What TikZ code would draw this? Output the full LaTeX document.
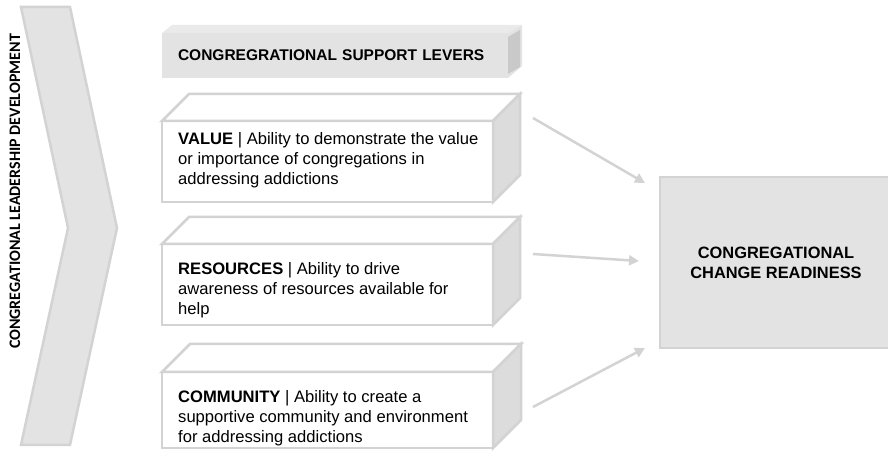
\documentclass[tikz,border=0pt]{standalone}
\usepackage{fontspec}
\setmainfont{Liberation Sans}
\newfontfamily\sidefont{Carlito}
\usetikzlibrary{arrows.meta}
\definecolor{panelgray}{HTML}{E3E3E3}
\definecolor{edgegray}{HTML}{D3D3D3}
\definecolor{sidegray}{HTML}{DCDCDC}
\definecolor{headtop}{HTML}{EAEAEA}
\definecolor{darkside}{HTML}{C9C9C9}
\tikzset{
  lever/.style={draw=edgegray, line width=2.5pt, fill=white, minimum width=331pt,
    minimum height=81pt, inner sep=0pt, outer sep=0pt, anchor=south west},
  face/.style={draw=edgegray, line width=2.5pt, line join=miter},
  levertext/.style={anchor=north west, inner sep=0pt, align=left,
    font=\fontsize{16.6}{20}\selectfont},
  link/.style={draw=edgegray, line width=2.5pt, -{Triangle[length=10pt,width=10pt]}},
}
\begin{document}
\begin{tikzpicture}[x=1pt,y=1pt]
  \useasboundingbox (0,0) rectangle (888,452);

  % leadership chevron
  \draw[face, fill=panelgray] (21,445) -- (70,445) -- (117,224) -- (70,7) -- (21,7) -- (68,224) -- cycle;
  \node[rotate=90, inner sep=0pt, font=\sidefont\fontsize{16}{16}\selectfont\bfseries] (leadership) at (15,260.5) {CONGREGATIONAL LEADERSHIP DEVELOPMENT};

  % header bar
  \node[fill=panelgray, minimum width=346pt, minimum height=45pt, inner xsep=16pt, inner ysep=0pt,
    outer sep=0pt, text width=314pt, align=left, anchor=south west,
    font=\fontsize{15.5}{20}\selectfont\bfseries] (levers) at (162,374) {CONGREGRATIONAL SUPPORT LEVERS};
  \fill[headtop] (levers.north west) -- ++(10,8) -- ++(350,0) -- (levers.north east) -- cycle;
  \fill[panelgray] (levers.south east) -- (levers.north east) -- ++(14,8) -- ++(0,-41) -- cycle;
  \fill[darkside] ([yshift=4pt]levers.south east) -- ([yshift=-4pt]levers.north east) -- ++(12,7) -- ++(0,-37) -- cycle;

  % lever boxes
  \node[lever] (value) at (162,250) {};
  \node[lever] (resources) at (162,127) {};
  \node[lever, minimum height=76pt] (community) at (162,4) {};
  \draw[face, fill=white] (value.north west) -- ++(27,27) -- ++(331,0) -- (value.north east) -- cycle;
  \draw[face, fill=sidegray] (value.north east) -- ++(27,27) -- ([shift={(27,27)}]value.south east) -- (value.south east) -- cycle;
  \draw[face, fill=white] (resources.north west) -- ++(27,27) -- ++(331,0) -- (resources.north east) -- cycle;
  \draw[face, fill=sidegray] (resources.north east) -- ++(27,27) -- ([shift={(27,27)}]resources.south east) -- (resources.south east) -- cycle;
  \draw[face, fill=white] (community.north west) -- ++(28,28) -- ++(331,0) -- (community.north east) -- cycle;
  \draw[face, fill=sidegray] (community.north east) -- ++(28,28) -- ([shift={(28,28)}]community.south east) -- (community.south east) -- cycle;

  \node[levertext] (valuetext) at (178,320) {\textbf{VALUE} | Ability to demonstrate the value\\or importance of congregations in\\addressing addictions};
  \node[levertext] (resourcestext) at (178,190) {\textbf{RESOURCES} | Ability to drive\\awareness of resources available for\\help};
  \node[levertext] (communitytext) at (178,62) {\textbf{COMMUNITY} | Ability to create a\\supportive community and environment\\for addressing addictions};

  % change readiness
  \node[draw=edgegray, fill=panelgray, line width=2.5pt, minimum width=232pt, minimum height=171pt,
    outer sep=0pt, align=center, font=\fontsize{16.4}{20}\selectfont\bfseries] (ready) at (776,189.5) {CONGREGATIONAL\\CHANGE READINESS};

  \draw[link] ([shift={(40,3)}]value.north east) -- ([shift={(-15,-6)}]ready.north west);
  \draw[link] ([shift={(40,-10)}]resources.north east) -- ([shift={(-21,1.5)}]ready.west);
  \draw[link] ([shift={(40,-35)}]community.north east) -- ([shift={(-15,0)}]ready.south west);

\end{tikzpicture}
\end{document}
